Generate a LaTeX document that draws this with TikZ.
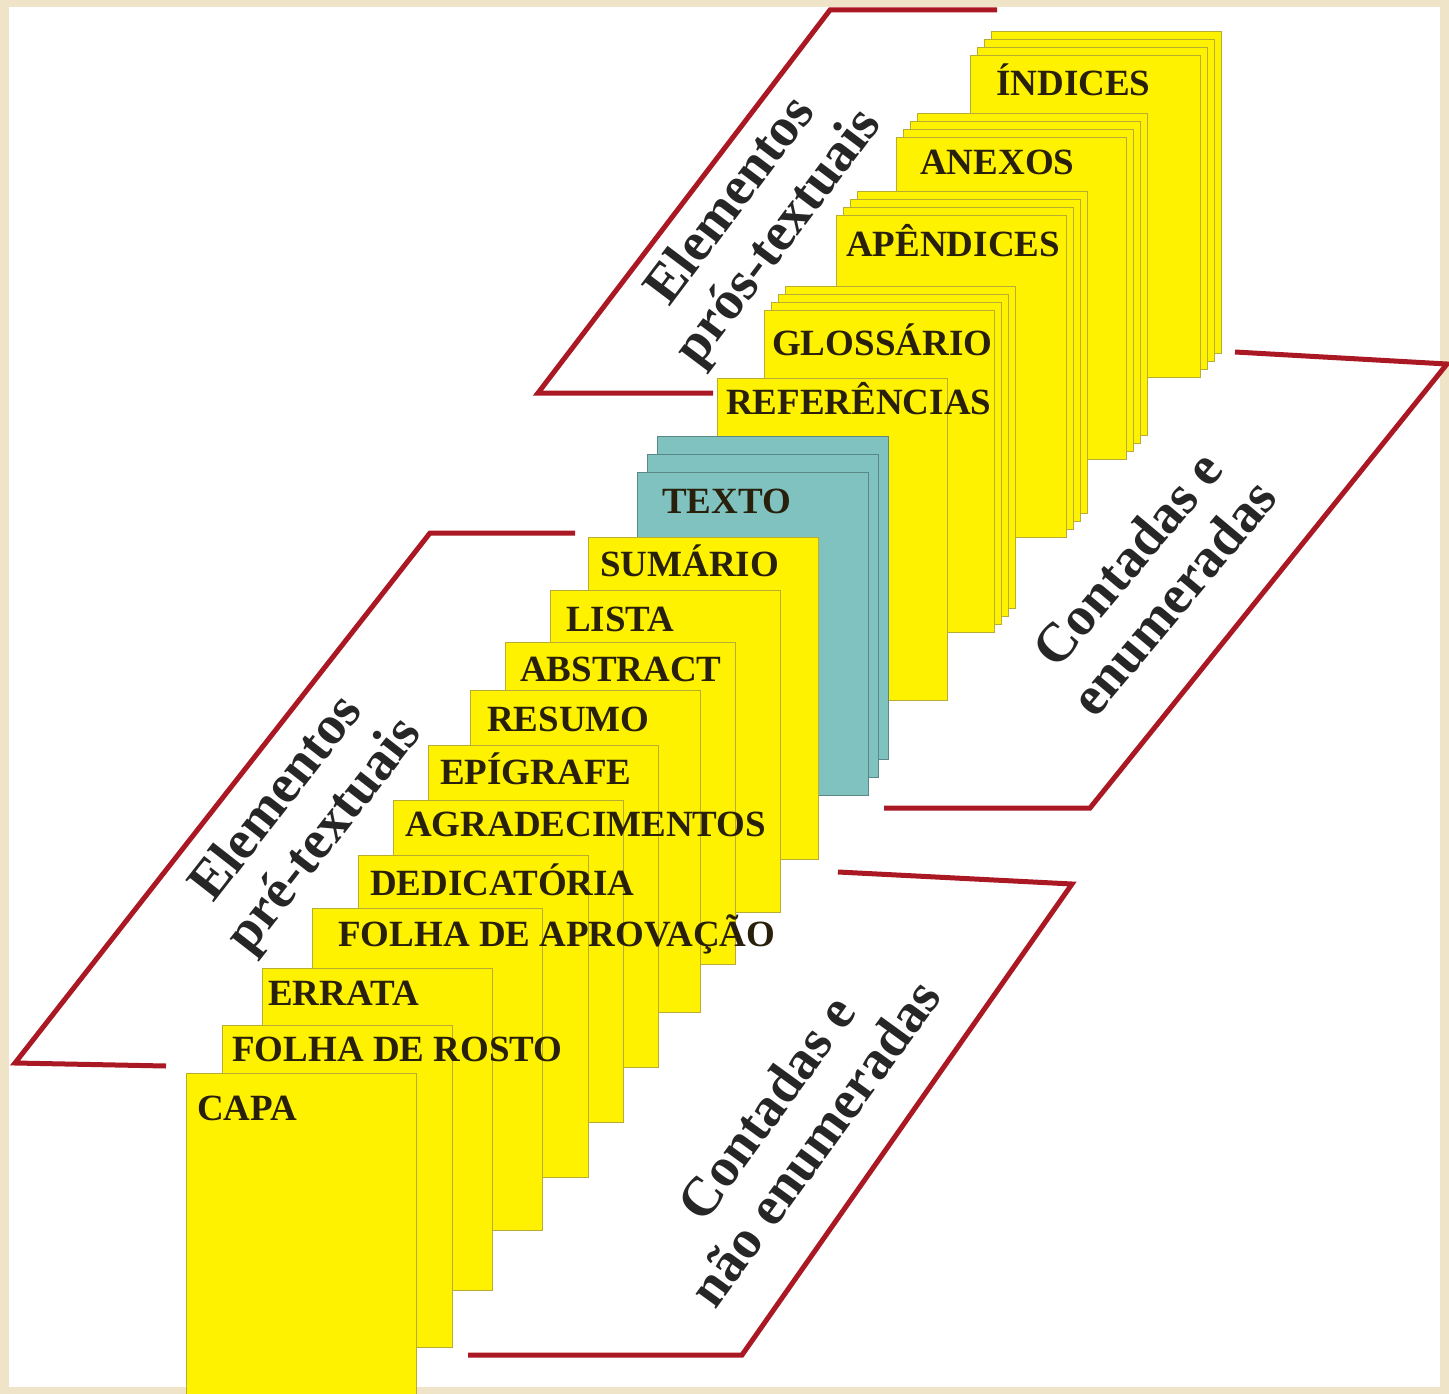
\documentclass[tikz,border=0pt]{standalone}
\usepackage{fontspec}
\setmainfont{Liberation Serif}
\usepackage{xcolor}
\definecolor{pageyellow}{RGB}{255,242,0}
\definecolor{pageedge}{RGB}{185,172,50}
\definecolor{textteal}{RGB}{128,194,192}
\definecolor{bracketred}{RGB}{170,24,36}
\definecolor{framebeige}{RGB}{240,228,200}
\definecolor{inkdark}{RGB}{40,32,10}

\begin{document}
\begin{tikzpicture}[x=1pt, y=-1pt,
    sheet/.style={fill=pageyellow, draw=pageedge, line width=0.8pt},
    tealsheet/.style={fill=textteal, draw=textteal!70!black, line width=0.8pt},
    lbl/.style={anchor=base west, inner sep=0pt, text=inkdark,
                font=\fontsize{37}{40}\selectfont\bfseries},
    bracket/.style={draw=bracketred, line width=5pt, line join=miter},
    side/.style={align=center, inner sep=0pt, text=black!85,
                 font=\fontsize{55}{60}\selectfont\bfseries}]
    \useasboundingbox (0,0) rectangle (1449,1394);

    % Frame
    \fill[framebeige] (0,0) rectangle (1449,1394);
    \fill[white] (9,7) rectangle (1440,1387);

    % Red brackets
    \draw[bracket] (997,10) -- (830,10) -- (538,393) -- (713,393);
    \draw[bracket] (1235,352) -- (1447,364) -- (1090,808) -- (884,808);
    \draw[bracket] (575,533) -- (430,533) -- (15,1063) -- (166,1066);
    \draw[bracket] (838,872) -- (1072,884) -- (742,1355) -- (468,1355);

    % Pos-textual pages (back to front)
    \foreach \px/\py/\n/\tx/\ty/\name/\txt in {
        970/55/3/996/96/indices/ÍNDICES,
        896/137/3/920/175/anexos/ANEXOS,
        836/215/3/846/256/apendices/APÊNDICES,
        764/310/3/772/355/glossario/GLOSSÁRIO,
        717/378/0/726/414/referencias/REFERÊNCIAS} {
        \foreach \k in {\n,...,0}
            \draw[sheet] (\px+7*\k, \py-8*\k) rectangle ++(230,322);
        \node[lbl] (\name) at (\tx,\ty) {\txt};
    }

    % Textual pages
    \foreach \k in {2,1,0}
        \draw[tealsheet] (637+10*\k, 472-18*\k) rectangle ++(231,323);
    \node[lbl] (texto) at (662,513) {TEXTO};

    % Pre-textual pages (back to front)
    \foreach \px/\py/\tx/\ty/\name/\txt in {
        588/537/600/576/sumario/SUMÁRIO,
        550/590/566/631/lista/LISTA,
        505/642/520/681/abstract/ABSTRACT,
        470/690/487/731/resumo/RESUMO,
        428/745/440/784/epigrafe/EPÍGRAFE,
        393/800/405/836/agradecimentos/AGRADECIMENTOS,
        358/855/370/895/dedicatoria/DEDICATÓRIA,
        312/908/338/946/aprovacao/FOLHA DE APROVAÇÃO,
        262/968/268/1005/errata/ERRATA,
        222/1025/232/1061/rosto/FOLHA DE ROSTO,
        186/1073/197/1120/capa/CAPA} {
        \draw[sheet] (\px,\py) rectangle ++(230,322);
        \node[lbl] (\name) at (\tx,\ty) {\txt};
    }

    % Group labels
    \node[side, rotate=53] (elempos) at (756,220) {Elementos\\prós-textuais};
    \node[side, rotate=52] (elempre) at (302,818) {Elementos\\pré-textuais};
    \node[side, rotate=50] (contenum) at (1150,578) {Contadas e\\enumeradas};
    \node[side, rotate=54] (contnaoenum) at (790,1125) {Contadas e\\não enumeradas};
\end{tikzpicture}
\end{document}
